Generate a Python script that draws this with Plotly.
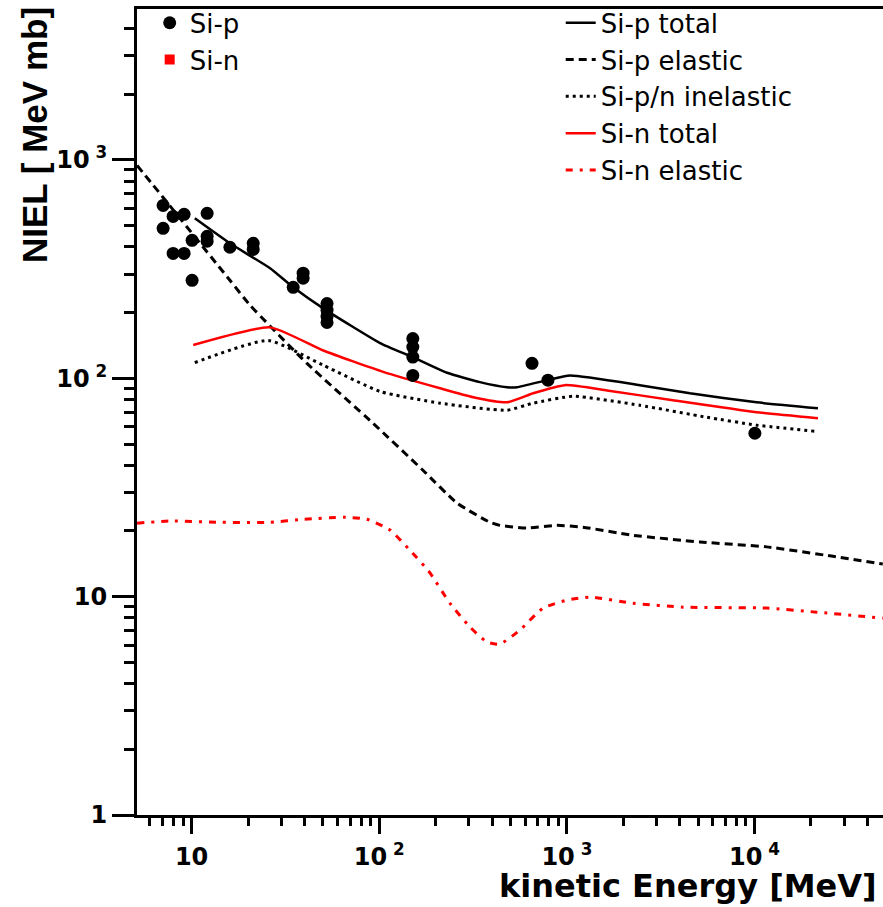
import plotly.graph_objects as go

# ---------------- data ----------------
# Si-p measured NIEL points
sip_E = [7.05, 7.05, 7.97, 9.12, 7.97, 9.12, 10.06, 10.06, 12.1, 12.1, 12.1, 16.0, 21.3, 21.3,
         34.8, 39.3, 39.3, 52.7, 52.7, 52.7, 52.7, 151, 151, 151, 151, 652, 793, 10050]
sip_V = [619, 486, 551, 563, 373, 373, 428, 281, 569, 447, 424, 398, 415, 389,
         261, 303, 287, 220, 205, 192, 180, 152, 139, 125, 103, 117, 98, 56]

# Si-n measured points (none visible in the figure)
sin_E = []
sin_V = []

# Si-p total
sip_tot_E = [10.4, 16.0, 26.2, 34.8, 50.3, 101, 151, 230, 344, 480, 542, 783, 1040, 2450, 4530, 10260, 21800]
sip_tot_V = [540, 415, 319, 261, 209, 145, 125, 106, 96, 91, 91, 98, 103, 93, 85.3, 77.6, 72.9]

# Si-p elastic
sip_el_E = [5.12, 7.05, 16.0, 20.5, 41.2, 92.7, 171, 260, 389, 440, 612, 885, 1219, 2250, 5120, 11600, 26200, 48300]
sip_el_V = [944, 673, 281, 216, 117, 62.2, 37.9, 26.8, 21.9, 21.2, 20.6, 21.2, 20.8, 19.1, 17.8, 16.9, 15.3, 14.1]

# Si-p/n inelastic
inel_E = [10.4, 25.6, 50, 101, 211, 480, 661, 1080, 2450, 5570, 10260, 21000]
inel_V = [118, 149, 115, 87, 76.9, 71.4, 76.9, 82.7, 75.2, 66.3, 61, 57.2]

# Si-n total
sin_tot_E = [10.2, 26.2, 50.3, 105, 211, 317, 480, 661, 977, 1637, 3670, 10260, 21800]
sin_tot_V = [142, 171, 134, 107, 90, 81.9, 77.6, 85.4, 93, 88, 79.3, 69.9, 65.6]

# Si-n elastic
sin_el_E = [5.12, 7.7, 14.2, 26.2, 39.7, 64.9, 86, 114, 146, 187, 238, 305, 375, 440, 562, 746,
            1000, 1327, 2250, 4160, 11600, 21500, 48300]
sin_el_V = [21.7, 22.2, 21.9, 21.9, 22.6, 23.1, 22.6, 20.2, 16.3, 12.8, 9.33, 7.25, 6.19, 6.06, 7.03, 8.86,
            9.64, 9.95, 9.33, 8.95, 8.86, 8.49, 7.97]

x_tickvals = [10, 100, 1000, 10000]
x_ticktext = ["10", "10<sup> 2</sup>", "10<sup> 3</sup>", "10<sup> 4</sup>"]
y_tickvals = [1, 10, 100, 1000]
y_ticktext = ["1", "10", "10<sup> 2</sup>", "10<sup> 3</sup>"]

x_minor = [m * 10 ** d for d in range(0, 5) for m in range(2, 10)]
y_minor = [m * 10 ** d for d in range(0, 4) for m in range(2, 10)]

# ---------------- figure ----------------
fig = go.Figure()

line_traces = [
    ("Si-p total", sip_tot_E, sip_tot_V, dict(color="black", width=2.5)),
    ("Si-p elastic", sip_el_E, sip_el_V, dict(color="black", width=3, dash="8px,5px")),
    ("Si-p/n inelastic", inel_E, inel_V, dict(color="black", width=3, dash="3px,4px")),
    ("Si-n total", sin_tot_E, sin_tot_V, dict(color="#ff0000", width=2.5)),
    ("Si-n elastic", sin_el_E, sin_el_V, dict(color="#ff0000", width=3, dash="7px,7px,3px,7px")),
]
for name, xs, ys, ln in line_traces:
    fig.add_trace(go.Scatter(x=xs, y=ys, mode="lines", name=name, line=dict(shape="spline", smoothing=0.5, **ln),
                             legend="legend2", legendgroup=name))

fig.add_trace(go.Scatter(x=sip_E, y=sip_V, mode="markers", name="Si-p",
                         marker=dict(symbol="circle", size=13, color="black"), legend="legend"))
fig.add_trace(go.Scatter(x=sin_E if sin_E else [None], y=sin_V if sin_V else [None], mode="markers", name="Si-n",
                         marker=dict(symbol="square", size=10, color="#ff0000"), legend="legend"))

tickfont = dict(family="DejaVu Sans", size=24, color="black", weight="bold")

fig.update_layout(
    width=883, height=907,
    margin=dict(l=137, r=0, t=9, b=92, autoexpand=False),
    paper_bgcolor="white", plot_bgcolor="white",
    showlegend=True,
    xaxis=dict(type="log", range=[0.709, 4.685], showgrid=False, zeroline=False, automargin=False,
               showline=True, linecolor="black", linewidth=3, mirror=True,
               ticks="outside", ticklen=16, tickwidth=3, tickcolor="black",
               tickmode="array", tickvals=x_tickvals, ticktext=x_ticktext, tickfont=tickfont,
               ticklabelstandoff=2,
               minor=dict(ticks="outside", ticklen=8, tickwidth=3, tickcolor="black",
                          tickmode="array", tickvals=x_minor, showgrid=False)),
    yaxis=dict(type="log", range=[0, 3.691], showgrid=False, zeroline=False, automargin=False,
               showline=True, linecolor="black", linewidth=3, mirror=False,
               ticks="outside", ticklen=22, tickwidth=3, tickcolor="black",
               tickmode="array", tickvals=y_tickvals, ticktext=y_ticktext, tickfont=tickfont,
               minor=dict(ticks="outside", ticklen=10, tickwidth=3, tickcolor="black",
                          tickmode="array", tickvals=y_minor, showgrid=False)),
    legend=dict(x=0.017, y=1.012, xanchor="left", yanchor="top", bgcolor="rgba(0,0,0,0)",
                font=dict(family="DejaVu Sans", size=26, color="black"), tracegroupgap=0,
                traceorder="normal"),
    legend2=dict(x=0.568, y=1.012, xanchor="left", yanchor="top", bgcolor="rgba(0,0,0,0)",
                 font=dict(family="DejaVu Sans", size=26, color="black"), tracegroupgap=0,
                 traceorder="normal"),
    annotations=[
        dict(text="kinetic Energy [MeV]", xref="paper", yref="paper", x=0.9933, y=-0.088,
             xanchor="right", yanchor="middle", showarrow=False, borderpad=0,
             font=dict(family="DejaVu Sans", size=32, color="black", weight="bold")),
        dict(text="NIEL [ MeV mb]", xref="paper", yref="paper", x=-0.1367, y=0.8437,
             xanchor="center", yanchor="middle", textangle=-90, showarrow=False,
             font=dict(family="Liberation Sans", size=35, color="black", weight="bold")),
    ],
)

fig.write_html("out.html", config={"displayModeBar": False},
               post_script="document.body.style.margin='0';document.body.style.padding='0';")
